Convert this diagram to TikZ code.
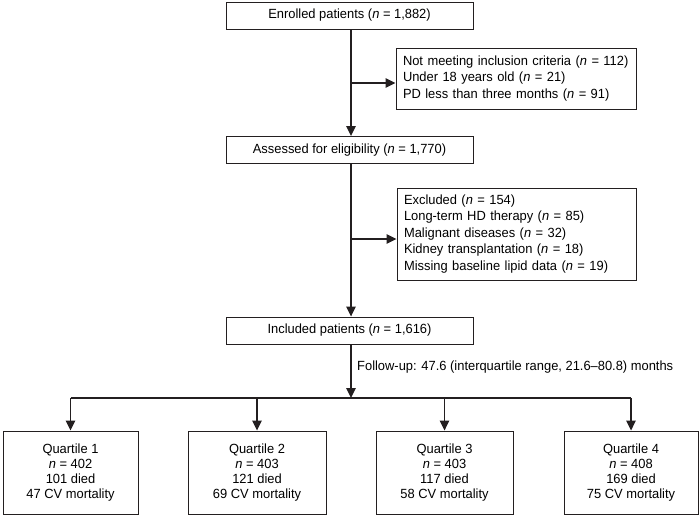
\documentclass[tikz,border=0pt]{standalone}
\usepackage{fontspec}
\setmainfont{Liberation Sans}[FakeStretch=0.97]
\usetikzlibrary{arrows.meta}
\definecolor{linec}{HTML}{231F20}

\begin{document}
\begin{tikzpicture}[x=1pt,y=-1pt,
    box/.style={draw=linec,line width=0.9pt,inner sep=0pt,minimum width=247pt,minimum height=27pt,font=\fontsize{13.3}{16.5}\selectfont},
    listbox/.style={draw=linec,line width=0.9pt,inner xsep=7pt,inner ysep=0pt,align=left,font=\fontsize{13.3}{16.5}\selectfont},
    quartbox/.style={draw=linec,line width=0.9pt,inner sep=0pt,minimum height=83pt,align=center,font=\fontsize{13.3}{15}\selectfont},
    flow/.style={draw=linec,line width=1.4pt,-{Triangle[length=10pt,width=9.5pt]}}]
      \useasboundingbox (0,0) rectangle (700,516);
      \node[box] (enrolled) at (349.5,15.5) {Enrolled patients (\textit{n} = 1,882)};
      \node[listbox,text width=226pt,minimum height=61pt] (notmet) at (516,78.5) {Not meeting inclusion criteria (\textit{n} = 112)\\Under 18 years old (\textit{n} = 21)\\PD less than three months (\textit{n} = 91)};
      \node[box] (assessed) at (349.5,150) {Assessed for eligibility (\textit{n} = 1,770)};
      \node[listbox,text width=225pt,minimum height=92pt] (excluded) at (516.5,234) {Excluded (\textit{n} = 154)\\Long-term HD therapy (\textit{n} = 85)\\Malignant diseases (\textit{n} = 32)\\Kidney transplantation (\textit{n} = 18)\\Missing baseline lipid data (\textit{n} = 19)};
      \node[box] (included) at (349.5,330.5) {Included patients (\textit{n} = 1,616)};
      \node[anchor=west,inner sep=0pt,font=\fontsize{13.3}{16.5}\selectfont] (followup) at (357,367) {Follow-up: 47.6 (interquartile range, 21.6--80.8) months};
      \node[quartbox,minimum width=135pt] (q1) at (70.5,472.5) {Quartile 1\\\textit{n} = 402\\101 died\\47 CV mortality};
      \node[quartbox,minimum width=138pt] (q2) at (257,472.5) {Quartile 2\\\textit{n} = 403\\121 died\\69 CV mortality};
      \node[quartbox,minimum width=137pt] (q3) at (444.5,472.5) {Quartile 3\\\textit{n} = 403\\117 died\\58 CV mortality};
      \node[quartbox,minimum width=134pt] (q4) at (631,472.5) {Quartile 4\\\textit{n} = 408\\169 died\\75 CV mortality};
      \coordinate (b1) at (351,83);
      \coordinate (b2) at (351,239);
      \coordinate (split) at (351,398);
      \draw[flow] (enrolled.south -| b1) -- (assessed.north -| b1);
      \draw[flow] (b1) -- (b1 -| notmet.west);
      \draw[flow] (assessed.south -| b2) -- (included.north -| b2);
      \draw[flow] (b2) -- (b2 -| excluded.west);
      \draw[flow] (included.south -| split) -- (split);
      \draw[draw=linec,line width=1.4pt] (split -| q1.north) -- (split -| q4.north);
      \foreach \q in {q1,q2,q3,q4}
        \draw[flow] (split -| \q.north) -- (\q.north);
    \end{tikzpicture}
\end{document}
